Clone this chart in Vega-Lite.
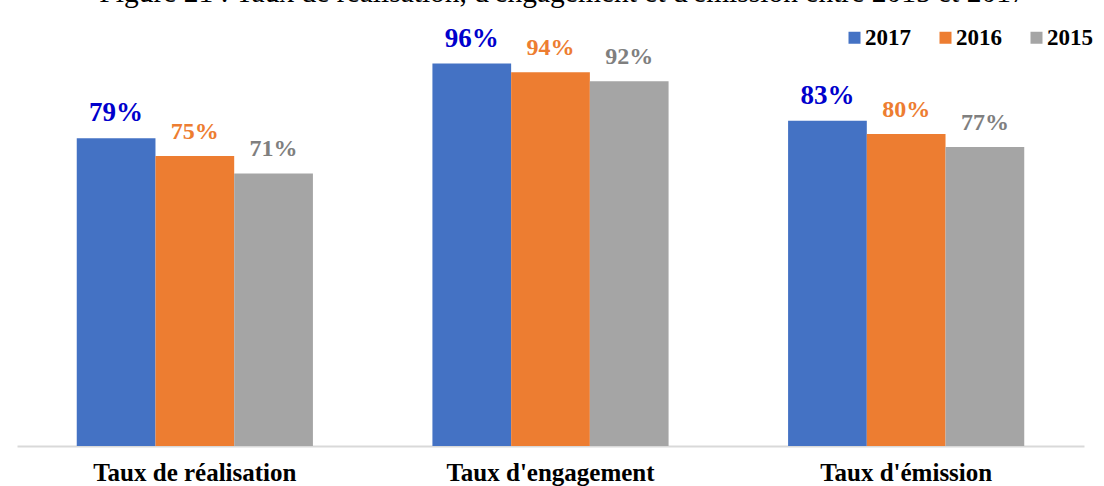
{
  "$schema": "https://vega.github.io/schema/vega-lite/v6.json",
  "autosize": {"type": "none"},
  "padding": {"left": 17, "top": 46, "right": 20, "bottom": 40},
  "width": 1067,
  "height": 400,
  "background": "white",
  "title": {
    "text": "Figure 21 : Taux de réalisation, d'engagement et d'émission entre 2015 et 2017",
    "font": "Liberation Serif",
    "fontSize": 29.5,
    "fontWeight": "normal",
    "color": "black",
    "anchor": "middle",
    "baseline": "alphabetic",
    "offset": 16,
    "dy": 23,
    "dx": 12
  },
  "config": {
    "view": {"stroke": null},
    "font": "Liberation Serif"
  },
  "data": {
    "values": [
      {"indicateur": "Taux de réalisation", "year": "2017", "value": 0.79},
      {"indicateur": "Taux de réalisation", "year": "2016", "value": 0.75},
      {"indicateur": "Taux de réalisation", "year": "2015", "value": 0.71},
      {"indicateur": "Taux d'engagement", "year": "2017", "value": 0.96},
      {"indicateur": "Taux d'engagement", "year": "2016", "value": 0.94},
      {"indicateur": "Taux d'engagement", "year": "2015", "value": 0.92},
      {"indicateur": "Taux d'émission", "year": "2017", "value": 0.83},
      {"indicateur": "Taux d'émission", "year": "2016", "value": 0.80},
      {"indicateur": "Taux d'émission", "year": "2015", "value": 0.77}
    ]
  },
  "encoding": {
    "x": {
      "field": "indicateur",
      "type": "nominal",
      "sort": ["Taux de réalisation", "Taux d'engagement", "Taux d'émission"],
      "scale": {"paddingInner": 0.336, "paddingOuter": 0.168},
      "axis": {
        "title": null,
        "labelAngle": 0,
        "labelFont": "Liberation Serif",
        "labelFontSize": 25,
        "labelFontWeight": "bold",
        "labelColor": "black",
        "labelLimit": 400,
        "ticks": false,
        "domainColor": "#D9D9D9",
        "domainWidth": 2,
        "labelPadding": 14
      }
    },
    "xOffset": {
      "field": "year",
      "type": "nominal",
      "sort": ["2017", "2016", "2015"],
      "scale": {"paddingInner": 0, "paddingOuter": 0}
    },
    "y": {
      "field": "value",
      "type": "quantitative",
      "scale": {"domain": [0.09, 1.0], "zero": false},
      "axis": null
    }
  },
  "layer": [
    {
      "mark": {"type": "bar"},
      "encoding": {
        "y2": {"datum": 0.09},
        "color": {
          "field": "year",
          "type": "nominal",
          "scale": {"domain": ["2017", "2016", "2015"], "range": ["#4472C4", "#ED7D31", "#A5A5A5"]},
          "legend": {
            "title": null,
            "orient": "none",
            "legendX": 826,
            "legendY": -20,
            "direction": "horizontal",
            "symbolType": "square",
            "symbolSize": 144,
            "symbolStrokeWidth": 0,
            "labelFont": "Liberation Serif",
            "labelFontSize": 23,
            "labelFontWeight": "bold",
            "labelColor": "black",
            "labelOffset": -1,
            "columnPadding": 23
          }
        }
      }
    },
    {
      "mark": {"type": "text", "baseline": "alphabetic", "dy": -17, "fontWeight": "bold", "font": "Liberation Serif"},
      "encoding": {
        "text": {"field": "value", "type": "quantitative", "format": ".0%"},
        "color": {
          "field": "year",
          "type": "nominal",
          "scale": {"domain": ["2017", "2016", "2015"], "range": ["#0000CC", "#ED7D31", "#7F7F7F"]},
          "legend": null
        },
        "size": {"condition": {"test": "datum.year === '2017'", "value": 27}, "value": 24}
      }
    }
  ],
  "resolve": {"scale": {"color": "independent"}}
}
